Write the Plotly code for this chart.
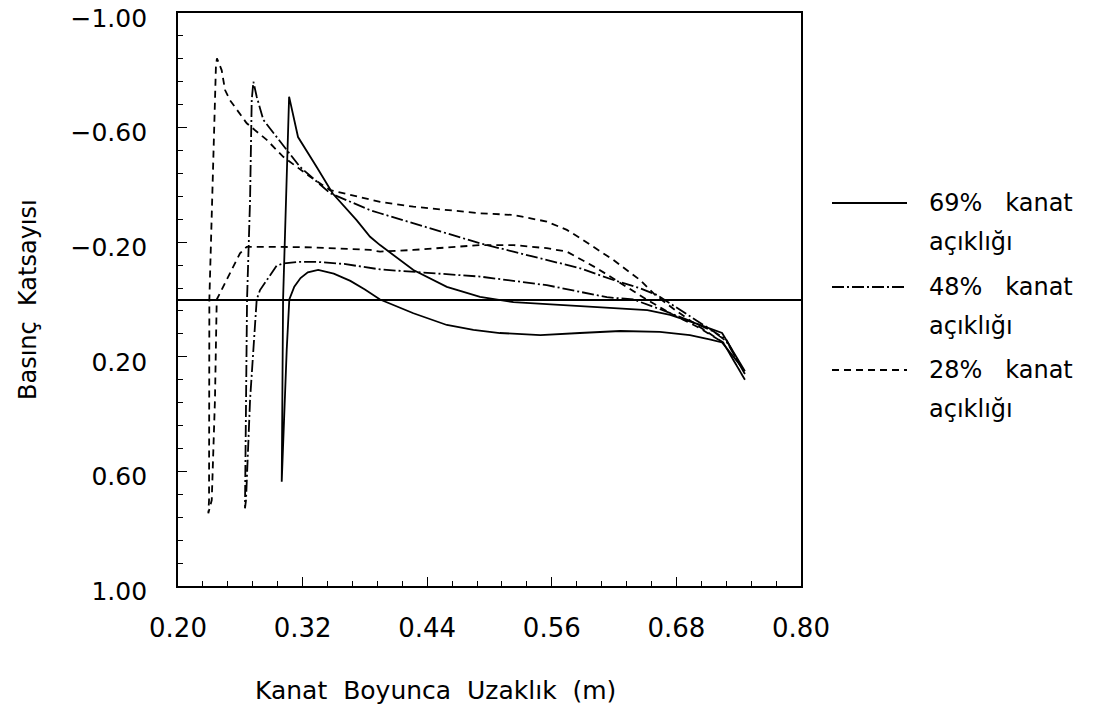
import plotly.graph_objects as go

# ---------------- data ----------------
# 69% kanat açıklığı (solid)
x69_upper = [0.2999, 0.3012, 0.3070, 0.3156, 0.3340, 0.3490, 0.3720, 0.3850, 0.3946,
             0.4267, 0.4589, 0.4909, 0.5230, 0.5870, 0.6520, 0.6740, 0.7000, 0.7240, 0.7460]
y69_upper = [0.636, 0.000, -0.708, -0.567, -0.460, -0.370, -0.277, -0.219, -0.190,
             -0.103, -0.044, -0.009, 0.009, 0.023, 0.037, 0.054, 0.085, 0.117, 0.250]
x69_lower = [0.2999, 0.3047, 0.3072, 0.3120, 0.3180, 0.3250, 0.3350, 0.3500, 0.3660,
             0.3800, 0.3946, 0.4267, 0.4589, 0.4845, 0.5100, 0.5490, 0.5870, 0.6260,
             0.6640, 0.6930, 0.7130, 0.7240, 0.7460]
y69_lower = [0.636, 0.176, 0.000, -0.045, -0.075, -0.095, -0.103, -0.090, -0.065,
             -0.035, 0.000, 0.048, 0.089, 0.106, 0.117, 0.124, 0.117, 0.110,
             0.113, 0.124, 0.140, 0.150, 0.250]

# 48% kanat açıklığı (dash-dot)
x48_upper = [0.2645, 0.2665, 0.2694, 0.2710, 0.2726, 0.2758, 0.2822, 0.3047, 0.3175,
             0.3464, 0.3850, 0.3946, 0.4267, 0.4589, 0.4909, 0.5230, 0.5552, 0.5873,
             0.6194, 0.6450, 0.6612, 0.6836, 0.7093, 0.7280, 0.7460]
y48_upper = [0.729, 0.000, -0.347, -0.696, -0.760, -0.708, -0.627, -0.522, -0.463,
             -0.371, -0.312, -0.301, -0.266, -0.231, -0.196, -0.167, -0.138, -0.109,
             -0.068, -0.039, -0.016, 0.037, 0.095, 0.140, 0.260]
x48_lower = [0.2645, 0.2655, 0.2694, 0.2758, 0.2790, 0.2854, 0.2950, 0.3015, 0.3150,
             0.3350, 0.3600, 0.3946, 0.4267, 0.4909, 0.5552, 0.6130, 0.6387, 0.6650,
             0.6900, 0.7150, 0.7280, 0.7460]
y48_lower = [0.729, 0.700, 0.350, 0.000, -0.033, -0.068, -0.118, -0.126, -0.131,
             -0.131, -0.124, -0.105, -0.095, -0.080, -0.050, -0.008, 0.000, 0.035,
             0.070, 0.110, 0.145, 0.260]

# 28% kanat açıklığı (dashed)
x28_upper = [0.2292, 0.2299, 0.2302, 0.2340, 0.2365, 0.2375, 0.2421, 0.2453, 0.2500,
             0.2662, 0.2855, 0.3014, 0.3270, 0.3464, 0.3720, 0.3850, 0.3946, 0.4267,
             0.4909, 0.5230, 0.5552, 0.5745, 0.5873, 0.6194, 0.6450, 0.6595, 0.6800,
             0.7000, 0.7250, 0.7460]
y28_upper = [0.746, 0.700, 0.000, -0.463, -0.810, -0.842, -0.800, -0.731, -0.696,
             -0.615, -0.557, -0.498, -0.429, -0.382, -0.359, -0.347, -0.341, -0.324,
             -0.301, -0.295, -0.272, -0.243, -0.214, -0.138, -0.068, -0.016, 0.040,
             0.090, 0.150, 0.280]
x28_lower = [0.2292, 0.2325, 0.2356, 0.2373, 0.2485, 0.2597, 0.2662, 0.2886, 0.3300,
             0.3850, 0.3946, 0.4267, 0.4909, 0.5230, 0.5552, 0.5745, 0.6035, 0.6258,
             0.6418, 0.6514, 0.6750, 0.7000, 0.7250, 0.7460]
y28_lower = [0.746, 0.700, 0.350, 0.000, -0.080, -0.161, -0.184, -0.184, -0.182,
             -0.173, -0.167, -0.173, -0.190, -0.190, -0.179, -0.167, -0.109, -0.057,
             -0.022, 0.000, 0.050, 0.095, 0.150, 0.280]

series_names = ["69% kanat", "48% kanat", "28% kanat"]
series_sub = "açıklığı"
x_title = "Kanat  Boyunca  Uzaklık  (m)"
y_title = "Basınç  Katsayısı"
x_ticks = [0.20, 0.32, 0.44, 0.56, 0.68, 0.80]
y_ticks = [-1.00, -0.60, -0.20, 0.20, 0.60, 1.00]

# ---------------- figure ----------------
FONT = "DejaVu Sans"
dashes = ["solid", "12px,3px,2px,3px", "7px,5px"]
series = [
    (x69_lower, y69_lower, x69_upper, y69_upper),
    (x48_lower, y48_lower, x48_upper, y48_upper),
    (x28_lower, y28_lower, x28_upper, y28_upper),
]

fig = go.Figure()
for (xl, yl, xu, yu), dash, name in zip(series, dashes, series_names):
    xs = list(reversed(xl)) + xu[1:]
    ys = list(reversed(yl)) + yu[1:]
    fig.add_trace(go.Scatter(x=xs, y=ys, mode="lines", name=name,
                             line=dict(color="black", width=1.8, dash=dash),
                             showlegend=False))

W, H = 1102, 709
L, R, T, B = 178, 801, 13, 586


def fmt(v):
    return f"{v:.2f}".replace("-", "\u2212")


fig.update_layout(
    width=W, height=H,
    margin=dict(l=L, r=W - R, t=T, b=H - B, autoexpand=False),
    paper_bgcolor="white", plot_bgcolor="white",
    font=dict(family=FONT, color="black", size=22),
)
fig.update_xaxes(
    range=[0.2, 0.8], tickvals=x_ticks, ticktext=[fmt(v) for v in x_ticks],
    ticks="inside", ticklen=9, tickwidth=1.3, tickcolor="black",
    minor=dict(dtick=0.024, tick0=0.2, ticks="inside", ticklen=5, tickcolor="black"),
    showline=True, linecolor="black", linewidth=1.8, mirror=True,
    showgrid=False, zeroline=False,
    tickfont=dict(size=26), ticklabelstandoff=18, ticklabeloverflow="allow",
)
fig.update_yaxes(
    range=[1.0, -1.0], tickvals=y_ticks, ticktext=[fmt(v) for v in y_ticks],
    ticks="inside", ticklen=9, tickwidth=1.3, tickcolor="black",
    minor=dict(dtick=0.08, tick0=-1.0, ticks="inside", ticklen=5, tickcolor="black"),
    showline=True, linecolor="black", linewidth=1.8, mirror=True,
    showgrid=False, zeroline=True, zerolinecolor="black", zerolinewidth=1.6,
    tickfont=dict(size=25), ticklabelstandoff=24, ticklabeloverflow="allow",
    ticklabelshift=-5,
)

pw, ph = R - L, B - T


def px(xp):
    return (xp - L) / pw


def py(yp):
    return (B - yp) / ph


# axis titles (placed as in the reference)
fig.add_annotation(xref="paper", yref="paper", x=px(435), y=py(690),
                   xanchor="center", yanchor="middle", showarrow=False,
                   text=x_title, font=dict(size=25))
fig.add_annotation(xref="paper", yref="paper", x=px(28), y=py(300),
                   xanchor="center", yanchor="middle", showarrow=False,
                   textangle=-90, text=y_title, font=dict(size=24))

# legend drawn by hand to match the reference's long line samples
leg_rows = [203, 287, 370]
for yrow, dash, name in zip(leg_rows, dashes, series_names):
    fig.add_shape(type="line", xref="paper", yref="paper",
                  x0=px(832), x1=px(907), y0=py(yrow), y1=py(yrow),
                  line=dict(color="black", width=1.8, dash=dash))
    fig.add_annotation(xref="paper", yref="paper", x=px(927), y=py(yrow),
                       xanchor="left", yanchor="middle", showarrow=False,
                       text=name.replace(" ", "   "), font=dict(size=24))
    fig.add_annotation(xref="paper", yref="paper", x=px(927), y=py(yrow + 39),
                       xanchor="left", yanchor="middle", showarrow=False,
                       text=series_sub, font=dict(size=24))

# remove the default 8px page margin so the figure fills the window exactly
fig.write_html("out.html",
               config={"displayModeBar": False},
               post_script="document.body.style.margin='0';"
                           "document.body.style.overflow='hidden';")
